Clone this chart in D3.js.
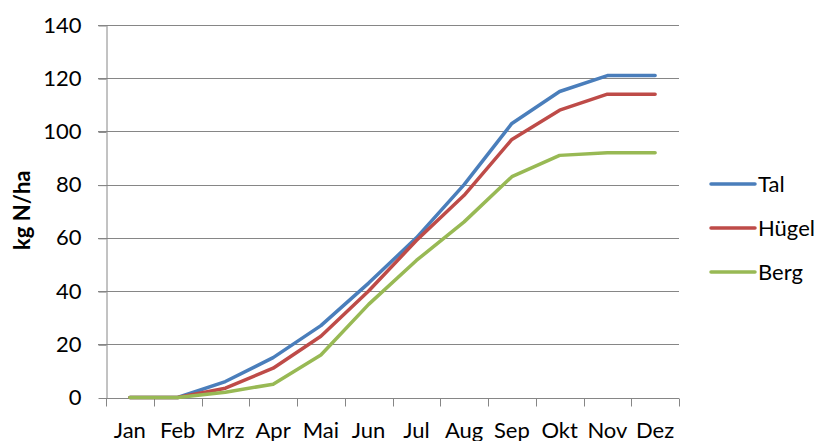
<!DOCTYPE html>
<meta charset="utf-8">
<style>
	body { margin: 0; background: #fff; }
	.chart text { font-family: Lato, "Open Sans", sans-serif; fill: #000; }
	.grid line { stroke: #868686; stroke-width: 1; }
	.axis path, .axis line { stroke: #868686; stroke-width: 1; }
	.series { fill: none; stroke-width: 3.5; stroke-linejoin: round; stroke-linecap: round; }
</style>
<div class="chart"></div>
<script src="https://d3js.org/d3.v7.min.js"></script>
<script>
	// Data
	const months = ["Jan", "Feb", "Mrz", "Apr", "Mai", "Jun", "Jul", "Aug", "Sep", "Okt", "Nov", "Dez"];
	const tal = [0, 0, 6, 15, 27, 43, 60, 80, 103, 115, 121, 121];
	const huegel = [0, 0, 3.5, 11, 23, 40, 59, 76, 97, 108, 114, 114];
	const berg = [0, 0, 2, 5, 16, 35, 51.5, 66, 83, 91, 92, 92];
	const seriesNames = ["Tal", "Hügel", "Berg"];
	const seriesColors = ["#4a7ebb", "#be4b48", "#98b954"];
	const yTicks = [0, 20, 40, 60, 80, 100, 120, 140];

	const series = [tal, huegel, berg].map((v, i) => ({ name: seriesNames[i], color: seriesColors[i], values: v }));

	// Setup
	const W = 819, H = 441;
	const margin = { top: 25, right: 140, bottom: 43.5, left: 106 };
	const width = W - margin.left - margin.right,
		height = H - margin.top - margin.bottom;

	const x = d3.scaleBand().domain(months).range([0, width]);
	const y = d3.scaleLinear().domain([0, 140]).range([height, 0]);

	const svg = d3.select(".chart").append("svg")
		.attr("width", W)
		.attr("height", H)
		.append("g")
		.attr("transform", "translate(" + margin.left + "," + margin.top + ")");

	// Gridlines
	svg.append("g")
		.attr("class", "grid")
		.selectAll("line")
		.data(yTicks.filter(d => d > 0))
		.join("line")
		.attr("x1", -8)
		.attr("x2", width)
		.attr("y1", d => Math.round(y(d)) + 0.5)
		.attr("y2", d => Math.round(y(d)) + 0.5);

	// Y axis
	const yAxis = svg.append("g")
		.attr("class", "axis")
		.attr("transform", "translate(0.5,0)")
		.call(d3.axisLeft(y).tickValues(yTicks).tickSize(8).tickSizeOuter(0).tickPadding(17));
	yAxis.selectAll("text").style("font-size", "22px");
	yAxis.selectAll(".tick line").attr("y1", 0.5).attr("y2", 0.5);

	// X axis
	const xAxis = svg.append("g")
		.attr("class", "axis")
		.attr("transform", "translate(0," + (Math.round(height) + 0.5) + ")");
	xAxis.append("line").attr("x1", 0).attr("x2", width).attr("y1", 0).attr("y2", 0);
	xAxis.selectAll(".xtick")
		.data(d3.range(months.length + 1))
		.join("line")
		.attr("x1", i => Math.round(i * x.step()) + 0.5)
		.attr("x2", i => Math.round(i * x.step()) + 0.5)
		.attr("y1", 0)
		.attr("y2", 8);
	xAxis.selectAll(".xlab")
		.data(months)
		.join("text")
		.attr("x", d => x(d) + x.bandwidth() / 2)
		.attr("y", 39)
		.attr("text-anchor", "middle")
		.style("font-size", "22px")
		.text(d => d);

	// Y label
	svg.append("text")
		.attr("transform", "rotate(-90)")
		.attr("x", -height / 2 + 1)
		.attr("y", -76)
		.attr("text-anchor", "middle")
		.style("font-size", "22px")
		.style("font-weight", 700)
		.text("kg N/ha");

	// Lines
	const line = d3.line()
		.x((d, i) => x(months[i]) + x.bandwidth() / 2)
		.y(d => y(d));

	svg.selectAll(".series")
		.data(series)
		.join("path")
		.attr("class", "series")
		.attr("stroke", d => d.color)
		.attr("d", d => line(d.values));

	// Legend
	const legend = svg.append("g")
		.attr("transform", "translate(" + (711 - margin.left) + "," + (184 - margin.top) + ")");
	const item = legend.selectAll("g")
		.data(series)
		.join("g")
		.attr("transform", (d, i) => "translate(0," + i * 44 + ")");
	item.append("line")
		.attr("x1", 0).attr("x2", 44)
		.attr("stroke", d => d.color)
		.attr("stroke-width", 3.5)
		.attr("stroke-linecap", "round");
	item.append("text")
		.attr("x", 47)
		.attr("y", 8)
		.style("font-size", "22px")
		.text(d => d.name);
</script>
